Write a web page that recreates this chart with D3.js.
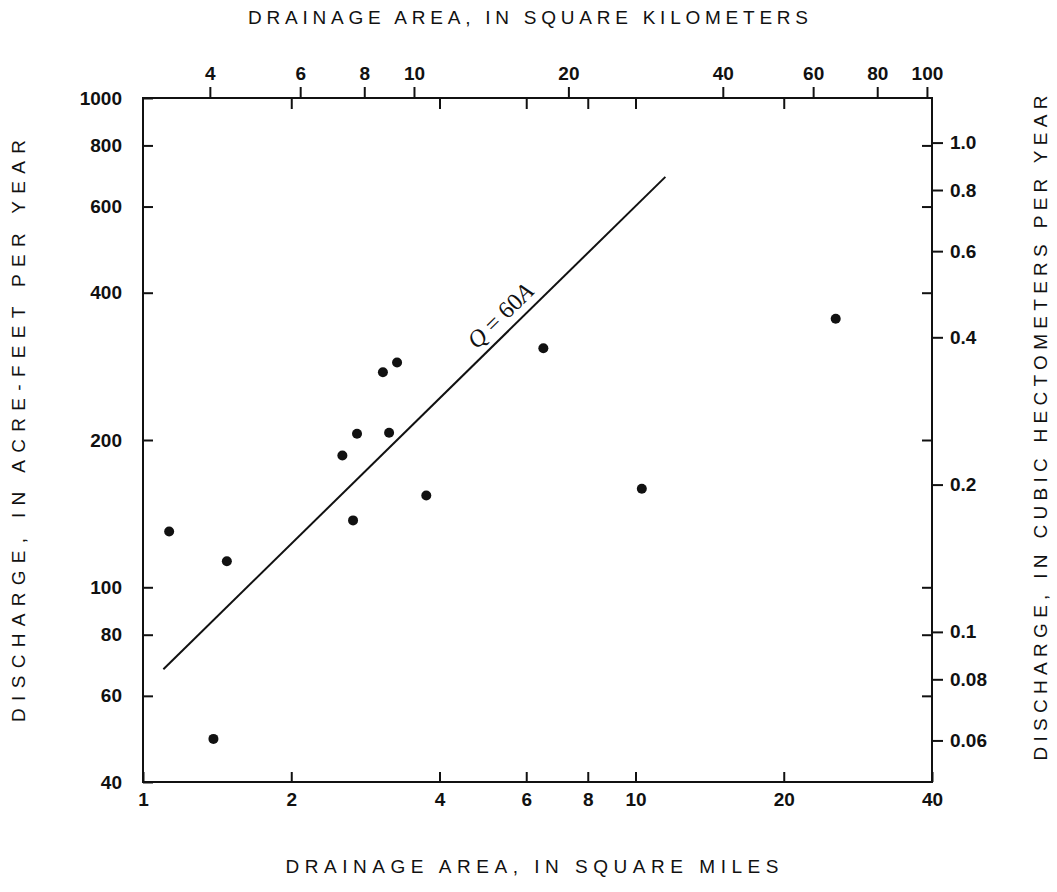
<!DOCTYPE html>
<html>
<head>
<meta charset="utf-8">
<script src="https://cdn.jsdelivr.net/npm/d3@7"></script>
<style>
  body { margin: 0; background: #fff; }
  svg text { font-family: "Liberation Sans", Arial, sans-serif; fill: #111; }
  .tick text { font-size: 19px; font-weight: bold; }
  .title { font-size: 19px; }
</style>
</head>
<body>
<svg id="chart" width="1057" height="892"></svg>
<script>
// drainage area (sq mi) and mean discharge (acre-ft / yr)
const areaSqMi = [1.13, 1.39, 1.48, 2.54, 2.72, 2.67, 3.07, 3.16, 3.28, 3.76, 6.5, 10.3, 25.5];
const dischargeAcFt = [130, 49, 113, 186, 206, 137, 275, 207, 288, 154, 308, 159, 354];

// the Q = 60A line, end points as drawn
const fitArea = [1.1, 11.5];
const fitDischarge = [68, 690];
const fitLabelAt = [5.6, 340];

// tick values
const bottomTicks = [1, 2, 4, 6, 8, 10, 20, 40];
const leftTicks = [40, 60, 80, 100, 200, 400, 600, 800, 1000];
const topTicks = [4, 6, 8, 10, 20, 40, 60, 80, 100];
const rightTicks = [0.06, 0.08, 0.1, 0.2, 0.4, 0.6, 0.8, 1.0];

// top km2 scale as drawn on the figure, and acre-ft -> hm3
const kmDomain = [2.963, 102.3];
const hm3PerAcFt = 0.0012335;

const margin = {top: 98, right: 125, bottom: 110, left: 143};
const width = 1057 - margin.left - margin.right,
    height = 892 - margin.top - margin.bottom;

const svg = d3.select("#chart");
const g = svg.append("g").attr("transform", `translate(${margin.left},${margin.top})`);

const x = d3.scaleLog().domain([1, 40]).range([0, width]);
const y = d3.scaleLog().domain([40, 1000]).range([height, 0]);
const xTop = d3.scaleLog().domain(kmDomain).range([0, width]);
const yRight = d3.scaleLog().domain([40 * hm3PerAcFt, 1000 * hm3PerAcFt]).range([height, 0]);

function styleAxis(sel) {
    sel.select(".domain").remove();
    sel.selectAll(".tick line").attr("stroke", "#111").attr("stroke-width", 2);
}

// bottom, ticks pointing in
g.append("g")
    .attr("transform", `translate(0,${height})`)
    .call(d3.axisBottom(x).tickValues(bottomTicks).tickSize(-10).tickPadding(11).tickFormat(d => String(d)))
    .call(styleAxis);

// left
g.append("g")
    .call(d3.axisLeft(y).tickValues(leftTicks).tickSize(-10).tickPadding(21).tickFormat(d => String(d)))
    .call(styleAxis);

// top, labelled ticks out, plain ticks in
g.append("g")
    .call(d3.axisTop(xTop).tickValues(topTicks).tickSize(11).tickPadding(7).tickFormat(d => String(d)))
    .call(styleAxis);
g.append("g")
    .call(d3.axisTop(x).tickValues(bottomTicks.slice(1, -1)).tickSize(-11).tickFormat(""))
    .call(styleAxis);

// right
g.append("g")
    .attr("transform", `translate(${width},0)`)
    .call(d3.axisRight(yRight).tickValues(rightTicks).tickSize(11).tickPadding(7)
        .tickFormat(d => d === 1 ? "1.0" : String(d)))
    .call(styleAxis);
g.append("g")
    .attr("transform", `translate(${width},0)`)
    .call(d3.axisRight(y).tickValues(leftTicks.slice(1, -1)).tickSize(-10).tickFormat(""))
    .call(styleAxis);

// frame
g.append("rect")
    .attr("width", width)
    .attr("height", height)
    .attr("fill", "none")
    .attr("stroke", "#111")
    .attr("stroke-width", 2);

// fitted line
const fit = fitArea.map((a, i) => [a, fitDischarge[i]]);
g.append("path")
    .datum(fit)
    .attr("fill", "none")
    .attr("stroke", "#111")
    .attr("stroke-width", 2)
    .attr("d", d3.line().x(d => x(d[0])).y(d => y(d[1])));

const ang = Math.atan2(y(fitDischarge[1]) - y(fitDischarge[0]), x(fitArea[1]) - x(fitArea[0])) * 180 / Math.PI;
const lab = g.append("text")
    .attr("transform", `translate(${x(fitLabelAt[0])},${y(fitLabelAt[1])}) rotate(${ang})`)
    .attr("dy", -8)
    .attr("text-anchor", "middle")
    .style("font-family", "'Liberation Serif', 'Times New Roman', serif")
    .style("font-size", "24px");
lab.append("tspan").style("font-style", "italic").text("Q");
lab.append("tspan").text(" = 60");
lab.append("tspan").style("font-style", "italic").text("A");

// points
const pts = areaSqMi.map((a, i) => ({a: a, q: dischargeAcFt[i]}));
g.selectAll("circle.pt")
    .data(pts)
    .enter().append("circle")
    .attr("class", "pt")
    .attr("cx", d => x(d.a))
    .attr("cy", d => y(d.q))
    .attr("r", 5)
    .attr("fill", "#111");

// axis titles
svg.append("text").attr("class", "title")
    .attr("x", 528).attr("y", 24)
    .attr("text-anchor", "middle")
    .attr("textLength", 560).attr("lengthAdjust", "spacing")
    .text("DRAINAGE AREA, IN SQUARE KILOMETERS");

svg.append("text").attr("class", "title")
    .attr("x", 532).attr("y", 873)
    .attr("text-anchor", "middle")
    .attr("textLength", 493).attr("lengthAdjust", "spacing")
    .text("DRAINAGE AREA, IN SQUARE MILES");

svg.append("text").attr("class", "title")
    .attr("transform", "translate(25,431) rotate(-90)")
    .attr("text-anchor", "middle")
    .attr("textLength", 582).attr("lengthAdjust", "spacing")
    .text("DISCHARGE, IN ACRE-FEET PER YEAR");

svg.append("text").attr("class", "title")
    .attr("transform", "translate(1047,428) rotate(-90)")
    .attr("text-anchor", "middle")
    .attr("textLength", 665).attr("lengthAdjust", "spacing")
    .text("DISCHARGE, IN CUBIC HECTOMETERS PER YEAR");
</script>
</body>
</html>
